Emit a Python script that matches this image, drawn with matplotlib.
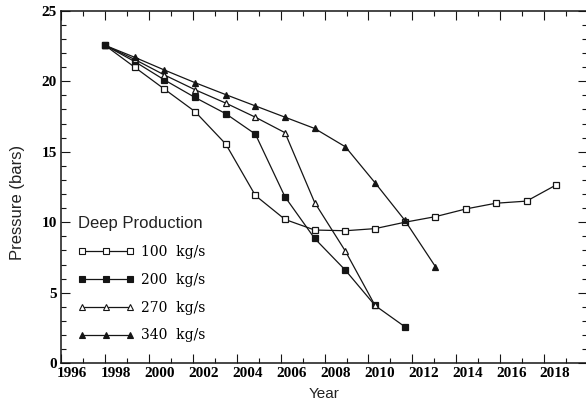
import numpy as np
import matplotlib
matplotlib.use("Agg")
import matplotlib.pyplot as plt
import matplotlib.transforms as mtransforms
from matplotlib.lines import Line2D
from matplotlib.ticker import MultipleLocator, FixedLocator

# model output: reservoir pressure for four deep production rates
years = [1997.5, 1998.85, 2000.2, 2001.6, 2003.0, 2004.35, 2005.7, 2007.05,
         2008.45, 2009.8, 2011.15, 2012.55, 2013.95, 2015.3, 2016.7, 2018.05]

p100 = [22.55, 21.0, 19.45, 17.85, 15.55, 11.9, 10.2, 9.45,
        9.4, 9.55, 10.0, 10.4, 10.95, 11.35, 11.5, 12.65]
p200 = [22.55, 21.4, 20.1, 18.85, 17.7, 16.25, 11.8, 8.85, 6.6, 4.1, 2.6]
p270 = [22.55, 21.55, 20.45, 19.4, 18.45, 17.45, 16.35, 11.4, 7.95, 4.1]
p340 = [22.55, 21.7, 20.8, 19.9, 19.05, 18.25, 17.45, 16.65, 15.35, 12.8, 10.15, 6.85]

labels = ["100  kg/s", "200  kg/s", "270  kg/s", "340  kg/s"]
year_labels = [str(y) for y in range(1996, 2019, 2)]

ink = "#151515"
styles = [("s", "white"), ("s", ink), ("^", "white"), ("^", ink)]
series = [p100, p200, p270, p340]

fig = plt.figure(figsize=(5.86, 4.04), dpi=100)
ax = fig.add_axes([0.1041, 0.1007, 0.8976, 0.8728])

for vals, (mk, fc), lab in zip(series, styles, labels):
    ax.plot(years[:len(vals)], vals, color=ink, lw=0.9, marker=mk,
            ms=5, mfc=fc, mec=ink, mew=0.9, label=lab)

ax.set_xlim(1995.5, 2019.45)
ax.set_ylim(0, 25)

# tick marks sit half a year left of the year labels
ax.xaxis.set_major_locator(FixedLocator(np.arange(1995.5, 2018, 2)))
ax.xaxis.set_minor_locator(FixedLocator(np.arange(1996.5, 2019.5, 2)))
ax.set_xticklabels(year_labels)
ax.yaxis.set_major_locator(MultipleLocator(5))
ax.yaxis.set_minor_locator(MultipleLocator(1))

tick_font = dict(family="Liberation Serif", weight="bold", size=11)
ax.tick_params(which="both", direction="in", top=True, right=True,
               width=0.8, color=ink)
ax.tick_params(which="major", length=6.5, pad=3)
ax.tick_params(which="minor", length=3.5)
shift = mtransforms.ScaledTranslation(0.11, 0, fig.dpi_scale_trans)
for t in ax.get_xticklabels():
    t.set_fontproperties(tick_font)
    t.set_transform(t.get_transform() + shift)
for t in ax.get_yticklabels():
    t.set_fontproperties(tick_font)

for s in ax.spines.values():
    s.set_linewidth(1.1)
    s.set_color(ink)

ax.set_xlabel("Year", fontsize=11, family="Liberation Sans", color="#222222")
ax.xaxis.set_label_coords(0.5, -0.066)
ax.set_ylabel("Pressure (bars)", fontsize=12, family="Liberation Sans",
              color="#222222")
ax.yaxis.set_label_coords(-0.068, 0.456)

handles = [Line2D([], [], color=ink, lw=0.9, marker=mk, ms=3.8, mfc=fc,
                  mec=ink, mew=0.8) for mk, fc in styles]
leg = ax.legend(handles, labels, title="Deep Production", loc="upper left",
                bbox_to_anchor=(0.0247, 0.43), frameon=False, numpoints=3,
                handlelength=4.0, handletextpad=0.55, labelspacing=1.0,
                borderpad=0.3, borderaxespad=0, alignment="left",
                prop=dict(family="DejaVu Serif", size=10),
                title_fontproperties=dict(family="Liberation Sans", size=12))
leg.get_title().set_color("#222222")

fig.savefig("out.png", dpi=100)
